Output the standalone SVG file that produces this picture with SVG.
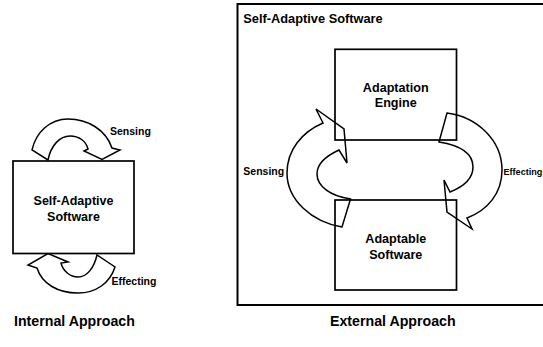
<svg xmlns="http://www.w3.org/2000/svg" width="543" height="347" viewBox="0 0 543 347">
<style>
text{font-family:"Liberation Sans",Arial,Helvetica,sans-serif;font-weight:bold;fill:#000}
.box{fill:#fff;stroke:#000;stroke-width:1.7}
.arr{fill:none;stroke:#000;stroke-width:1.5;stroke-linejoin:miter}
.lbl{font-size:10.5px}
.nm{font-size:12.6px;text-anchor:middle}
.cap{font-size:14.2px}
</style>
<rect width="543" height="347" fill="#fff"/>
<g id="internal-approach">
  <g id="internal-box">
    <rect class="box" x="13" y="161" width="121" height="92.5"/>
    <text class="nm" x="73.5" y="204.5" style="font-size:12.5px">Self-Adaptive</text>
    <text class="nm" x="73.5" y="220.5" style="font-size:12.5px">Software</text>
  </g>
  <g id="internal-connectors">
    <path class="arr" d="M32,150 C36,132 50,119 68,119 C88,119 106,130 112,148 L120,150 L102,159.5 L84,151 L88,149 C86,141 79,136 70,136 C60,136 51,145 48,160 Z"/>
    <path class="arr" d="M48,253.5 L28,265 L37,268 C42,284 58,293 78,293 C96,293 110,283 115,267 L97,255 C94,268 87,277 78,277 C70,277 63,271 61,263 L68,262 Z"/>
    <text class="lbl" x="110" y="135">Sensing</text>
    <text class="lbl" x="111.5" y="285">Effecting</text>
  </g>
  <text class="cap" x="14" y="326">Internal Approach</text>
</g>
<g id="external-approach">
  <g id="self-adaptive-software">
    <rect x="237.5" y="4" width="310" height="301" fill="none" stroke="#000" stroke-width="2"/>
    <text x="243.3" y="22.5" style="font-size:12.8px">Self-Adaptive Software</text>
  </g>
  <g id="adaptation-engine">
    <rect class="box" x="335" y="49.3" width="121.5" height="90.7"/>
    <text class="nm" x="395.75" y="92">Adaptation</text>
    <text class="nm" x="395.75" y="106.5">Engine</text>
  </g>
  <g id="adaptable-software">
    <rect class="box" x="335" y="200" width="121.5" height="90"/>
    <text class="nm" x="395.75" y="243">Adaptable</text>
    <text class="nm" x="395.75" y="258.5">Software</text>
  </g>
  <g id="external-connectors">
    <path class="arr" d="M316,109 L344,129 L347,163 L339,150 C326,156 317,164 317,174 C317,186 330,196 350.5,199 L342,227 C312,222 287,200 287,173 C287,150 302,132 323,123 Z"/>
    <path class="arr" d="M447,113 C477,117 502,140 502,170 C502,193 488,210 467,218 L472,229 L447,212 L444,180 L450,192 C465,186 473,178 473,167 C473,152 458,145 439,142 Z"/>
    <text class="lbl" x="243.3" y="174.5">Sensing</text>
    <text class="lbl" x="503.5" y="174.5" style="font-size:9.1px">Effecting</text>
  </g>
  <text class="cap" x="330" y="326">External Approach</text>
</g>
</svg>
